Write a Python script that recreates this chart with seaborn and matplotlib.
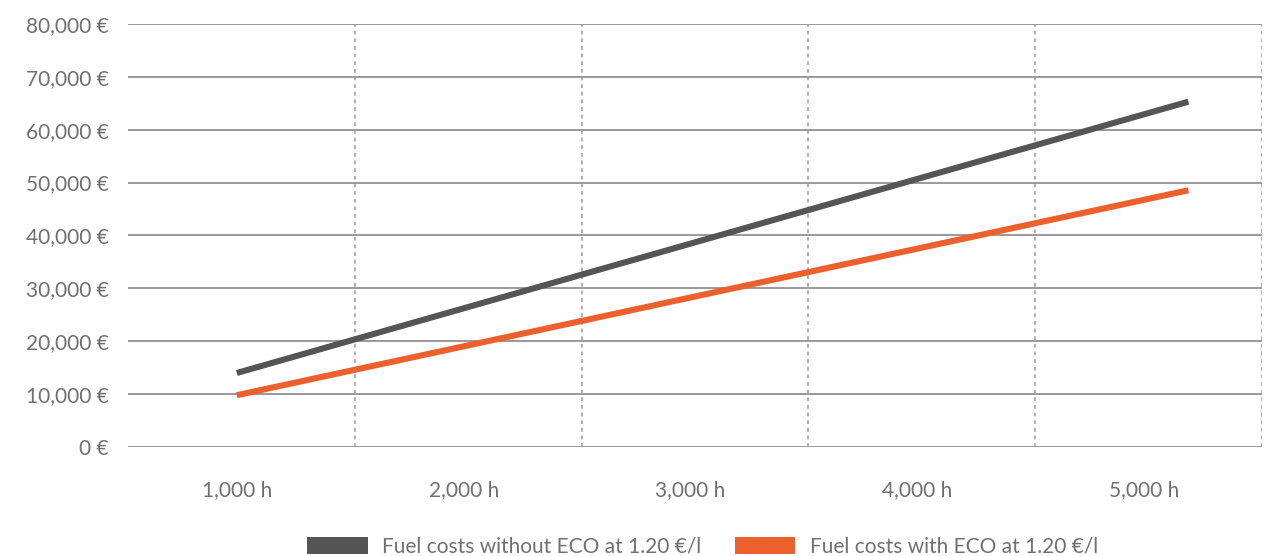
import pandas as pd
import matplotlib.pyplot as plt
import seaborn as sns
from matplotlib.patches import Patch
from matplotlib.ticker import FuncFormatter

# 数据
hours = [1000, 5195]
cost_without_eco = [14000, 65300]
cost_with_eco = [9800, 48550]
series_names = ['Fuel costs without ECO at 1.20 €/l', 'Fuel costs with ECO at 1.20 €/l']
tick_hours = [1000, 2000, 3000, 4000, 5000]
tick_labels = ['1,000 h', '2,000 h', '3,000 h', '4,000 h', '5,000 h']
y_ticks = list(range(0, 80001, 10000))

colors = ['#555555', '#ec602d']
text_color = '#707070'
grid_color = '#9a9a9a'

data = pd.DataFrame({
    'hours': hours * 2,
    'cost': cost_without_eco + cost_with_eco,
    'series': [series_names[0]] * 2 + [series_names[1]] * 2,
})

sns.set_style('white')
plt.rcParams['font.family'] = ['Lato', 'DejaVu Sans']

fig = plt.figure(figsize=(12.71, 5.56), dpi=100)
ax = fig.add_axes([0.1007, 0.196, 0.8923, 0.761])

# 网格线
for y in y_ticks:
    ax.axhline(y, color=grid_color, lw=1.4, zorder=1)
for x in [1520, 2520, 3520, 4520, 5520]:
    ax.axvline(x, color=grid_color, lw=1.1, ls=(0, (2.5, 2.5)), zorder=1)

sns.lineplot(data=data, x='hours', y='cost', hue='series', palette=colors,
             linewidth=4.4, legend=False, ax=ax, zorder=3)
for line in ax.lines[-2:]:
    line.set_solid_capstyle('butt')

ax.set_xlim(520, 5520)
ax.set_ylim(0, 80000)
ax.set_xticks(tick_hours)
ax.set_xticklabels(tick_labels)
ax.set_yticks(y_ticks)
ax.yaxis.set_major_formatter(FuncFormatter(lambda v, p: f'{int(v):,} €'))
ax.tick_params(axis='y', length=0, pad=14, labelsize=15, labelcolor=text_color)
ax.tick_params(axis='x', length=0, pad=24, labelsize=15, labelcolor=text_color)
ax.set_xlabel('')
ax.set_ylabel('')
for s in ax.spines.values():
    s.set_visible(False)

handles = [Patch(facecolor=c, edgecolor='none') for c in colors]
leg = fig.legend(handles, series_names, loc='center', bbox_to_anchor=(0.553, 0.017),
                 ncol=2, frameon=False, fontsize=15, handlelength=2.9,
                 handleheight=0.85, handletextpad=0.7, columnspacing=1.6)
for t in leg.get_texts():
    t.set_color(text_color)

plt.savefig('out.png', dpi=100)
plt.close()
